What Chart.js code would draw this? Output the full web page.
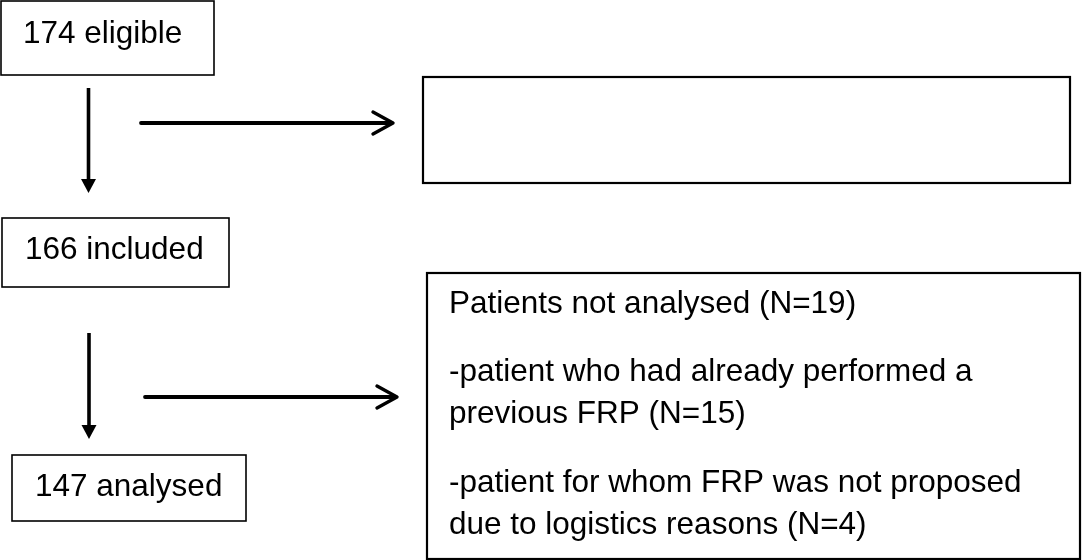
<!DOCTYPE html>
<html>
<head>
<meta charset="utf-8">
<title>Patient flow chart</title>
<script src="https://cdn.jsdelivr.net/npm/chart.js@4.4.1/dist/chart.umd.min.js"></script>
<style>
    html, body { margin: 0; padding: 0; background: #ffffff; }
    #flow { display: block; }
</style>
</head>
<body>
<canvas id="flow" width="1082" height="560"></canvas>
<script>
// ── Data ─────────────────────────────────────────────────────────────
const stepLabels = ['eligible', 'included', 'analysed'];
const stepCounts = [174, 166, 147];
const excludedTitle = 'Patients not analysed';
const excludedTotal = 19;
const excludedReasons = [
    '-patient who had already performed a previous FRP',
    '-patient for whom FRP was not proposed due to logistics reasons'
];
const excludedCounts = [15, 4];

// ── Layout (page units, y grows downward) ────────────────────────────
const FONT = '31.5px "Liberation Sans", Arial, sans-serif';
const stepBoxes = [
    { x0: 1, y0: 1, x1: 214, y1: 75, tx: 23, ty: 43 },
    { x0: 2, y0: 218, x1: 229, y1: 287, tx: 25, ty: 259 },
    { x0: 12, y0: 455, x1: 246, y1: 521, tx: 35, ty: 496 }
];
const sideBoxes = [
    { x0: 423, y0: 77, x1: 1070, y1: 183 },   // empty box
    { x0: 427, y0: 273, x1: 1080, y1: 559 }   // exclusions
];
const downArrows = [
    { x: 88.5, y0: 88, y1: 193 },
    { x: 89, y0: 333, y1: 439 }
];
const sideArrows = [
    { y: 123, x0: 141, x1: 393 },
    { y: 397, x0: 145, x1: 397 }
];
const exclText = { x: 449, lines: [313, 381, 423, 492, 534], wrap: 605 };

// ── Drawing plugin ───────────────────────────────────────────────────
function wrapWords(ctx, text, maxW) {
    const words = text.split(' ');
    const out = [];
    let cur = '';
    words.forEach(w => {
        const test = cur ? cur + ' ' + w : w;
        if (cur && ctx.measureText(test).width > maxW) {
            out.push(cur);
            cur = w;
        } else {
            cur = test;
        }
    });
    if (cur) out.push(cur);
    return out;
}

const flowPlugin = {
    id: 'flow',
    afterDraw(chart) {
        const ctx = chart.ctx;
        const sx = chart.scales.x, sy = chart.scales.y;
        const px = v => sx.getPixelForValue(v);
        const py = v => sy.getPixelForValue(v);

        ctx.save();
        ctx.fillStyle = '#000';
        ctx.strokeStyle = '#000';
        ctx.font = FONT;
        ctx.textBaseline = 'alphabetic';
        ctx.textAlign = 'left';

        // step boxes
        ctx.lineWidth = 1.6;
        stepBoxes.forEach((b, i) => {
            ctx.strokeRect(px(b.x0), py(b.y0), px(b.x1) - px(b.x0), py(b.y1) - py(b.y0));
            ctx.fillText(`${stepCounts[i]} ${stepLabels[i]}`, px(b.tx), py(b.ty));
        });

        // side boxes
        ctx.lineWidth = 2.2;
        sideBoxes.forEach(b => {
            ctx.strokeRect(px(b.x0), py(b.y0), px(b.x1) - px(b.x0), py(b.y1) - py(b.y0));
        });

        // exclusion text
        const lines = [`${excludedTitle} (N=${excludedTotal})`];
        excludedReasons.forEach((r, i) => {
            wrapWords(ctx, `${r} (N=${excludedCounts[i]})`, exclText.wrap).forEach(l => lines.push(l));
        });
        lines.forEach((l, i) => {
            if (i < exclText.lines.length) ctx.fillText(l, px(exclText.x), py(exclText.lines[i]));
        });

        // vertical arrows with filled heads
        ctx.lineWidth = 3.6;
        downArrows.forEach(a => {
            const x = px(a.x), tip = py(a.y1);
            ctx.beginPath();
            ctx.moveTo(x, py(a.y0));
            ctx.lineTo(x, tip - 12);
            ctx.stroke();
            ctx.beginPath();
            ctx.moveTo(x - 7.5, tip - 14);
            ctx.lineTo(x + 7.5, tip - 14);
            ctx.lineTo(x, tip);
            ctx.closePath();
            ctx.fill();
        });

        // horizontal arrows with open heads
        ctx.lineCap = 'round';
        ctx.lineJoin = 'round';
        sideArrows.forEach(a => {
            const y = py(a.y), tip = px(a.x1);
            ctx.lineWidth = 3.8;
            ctx.beginPath();
            ctx.moveTo(px(a.x0), y);
            ctx.lineTo(tip - 2, y);
            ctx.stroke();
            ctx.lineWidth = 3.4;
            ctx.beginPath();
            ctx.moveTo(tip - 20, y - 11);
            ctx.lineTo(tip, y);
            ctx.lineTo(tip - 20, y + 11);
            ctx.stroke();
        });
        ctx.restore();
    }
};

// ── Chart ────────────────────────────────────────────────────────────
new Chart(document.getElementById('flow').getContext('2d'), {
    type: 'scatter',
    data: { datasets: [{ data: [], pointRadius: 0 }] },
    options: {
        responsive: false,
        animation: false,
        events: [],
        layout: { padding: 0 },
        plugins: { legend: { display: false }, tooltip: { enabled: false } },
        scales: {
            x: { type: 'linear', min: 0, max: 1082, display: false },
            y: { type: 'linear', min: 0, max: 560, reverse: true, display: false }
        }
    },
    plugins: [flowPlugin]
});
</script>
</body>
</html>
